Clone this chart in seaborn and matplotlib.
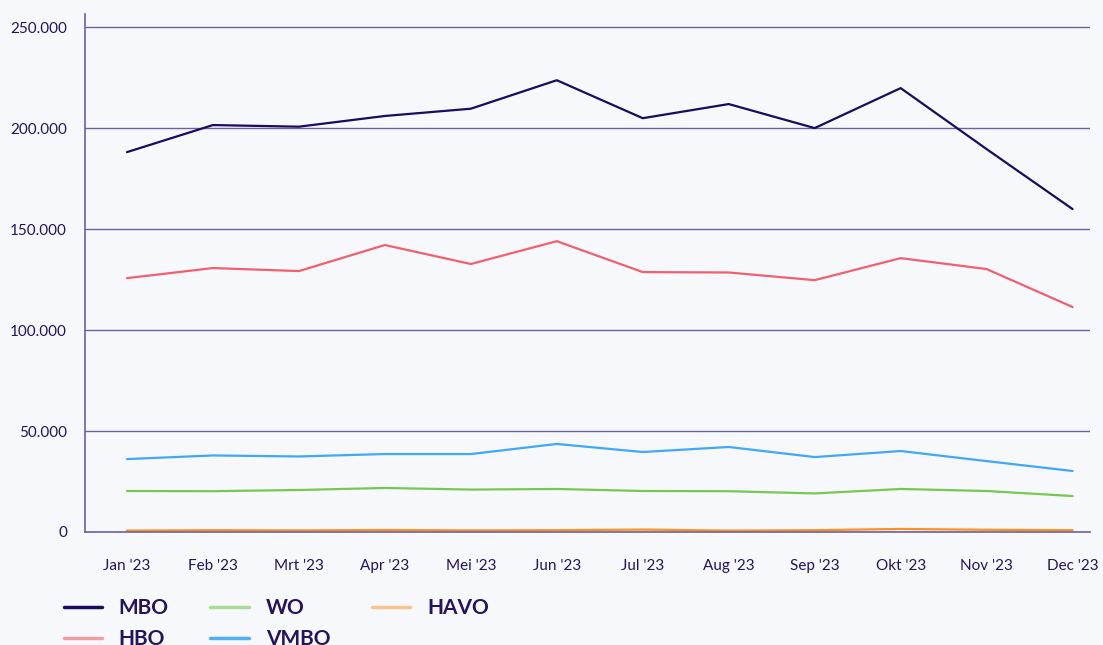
import pandas as pd
import matplotlib.pyplot as plt
import seaborn as sns

months = ["Jan '23", "Feb '23", "Mrt '23", "Apr '23", "Mei '23", "Jun '23",
          "Jul '23", "Aug '23", "Sep '23", "Okt '23", "Nov '23", "Dec '23"]

mbo = [188100, 201500, 200700, 206000, 209600, 223700, 204900, 211900, 200000, 219800, 189600, 159900]
hbo = [125700, 130700, 129200, 142100, 132700, 144000, 128700, 128500, 124700, 135600, 130200, 111400]
wo = [20300, 20200, 20800, 21800, 21000, 21300, 20300, 20200, 19100, 21300, 20300, 17800]
vmbo = [36100, 37900, 37400, 38600, 38600, 43600, 39600, 42100, 37100, 40100, 35100, 30200]
havo = [700, 900, 800, 1000, 800, 900, 1200, 700, 900, 1500, 1100, 900]

series = {"MBO": mbo, "HBO": hbo, "WO": wo, "VMBO": vmbo, "HAVO": havo}
colors = {"MBO": "#1b0a5e", "HBO": "#f0606e", "WO": "#78c850",
          "VMBO": "#3fa9f5", "HAVO": "#f7931e"}
legend_alpha = {"MBO": 1.0, "HBO": 0.6, "WO": 0.6, "VMBO": 0.9, "HAVO": 0.5}

rows = []
for name, vals in series.items():
    for i, v in enumerate(vals):
        rows.append({"maand": i, "aantal": v, "niveau": name})
df = pd.DataFrame(rows)

bg = "#f7f8fc"
ink = "#24135f"
grid = "#6e5fa3"

sns.set_style("white")
plt.rcParams["font.family"] = ["Lato", "DejaVu Sans"]

fig = plt.figure(figsize=(11.03, 6.45), dpi=100, facecolor=bg)
ax = fig.add_axes([0.0771, 0.1752, 0.9109, 0.8028])
ax.set_facecolor(bg)

sns.lineplot(data=df, x="maand", y="aantal", hue="niveau", palette=colors,
             hue_order=list(series.keys()), linewidth=1.6, ax=ax)

ax.set_xlim(-0.488, 11.2)
ax.set_ylim(0, 256400)
ax.set_yticks([0, 50000, 100000, 150000, 200000, 250000])
ax.set_yticklabels(["0", "50.000", "100.000", "150.000", "200.000", "250.000"])
ax.set_xticks(range(12))
ax.set_xticklabels(months)
ax.yaxis.grid(True, color=grid, linewidth=1)
ax.set_axisbelow(True)
ax.set_xlabel("")
ax.set_ylabel("")

for s in ["top", "right"]:
    ax.spines[s].set_visible(False)
for s in ["left", "bottom"]:
    ax.spines[s].set_color(grid)
    ax.spines[s].set_linewidth(1.2)

ax.tick_params(axis="x", length=11, width=1.3, color="#3a2a7a", pad=8.5, labelsize=11, labelcolor=ink)
ax.tick_params(axis="y", length=0, pad=13, labelsize=11, labelcolor=ink)

# legend sits low, second row is partly cut off like in the original
leg = ax.legend(loc="upper left", bbox_to_anchor=(-0.040, -0.091), ncol=3, frameon=False,
                handlelength=1.85, handletextpad=0.8, columnspacing=2.0, labelspacing=0.55,
                prop={"weight": "bold", "size": 15})
for h in leg.get_lines():
    h.set_linewidth(2.5)
    h.set_alpha(legend_alpha[h.get_label()])
for t in leg.get_texts():
    t.set_color(ink)

fig.savefig("out.png", dpi=100, facecolor=bg)
